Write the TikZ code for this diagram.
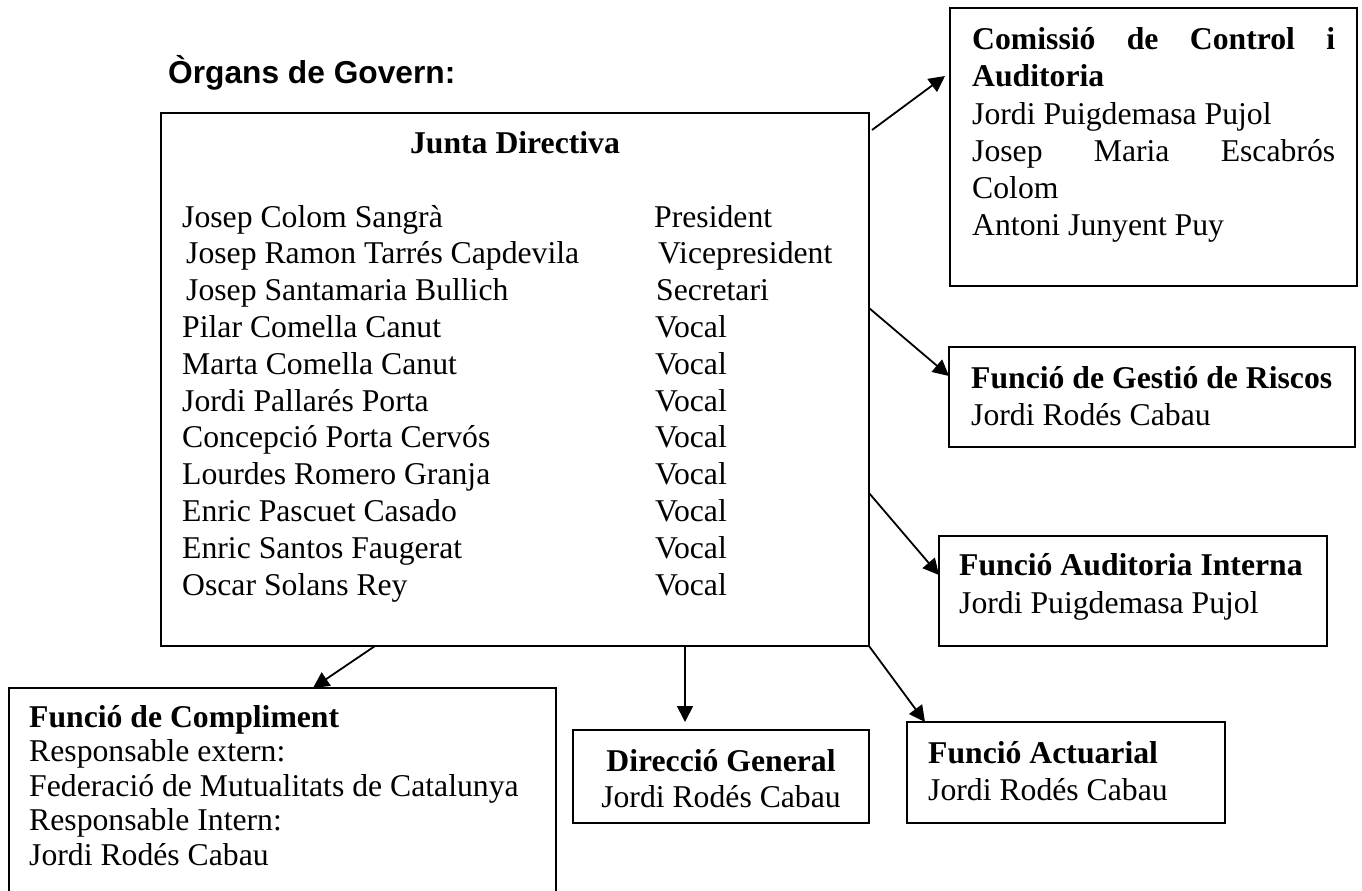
\documentclass[tikz,border=0pt]{standalone}
\usepackage{fontspec}
\setmainfont{Liberation Serif}
\newfontfamily\titlefont{Liberation Sans}
\usetikzlibrary{arrows.meta}

\begin{document}
\begin{tikzpicture}[x=1pt,y=-1pt,
    box/.style={draw, line width=1.8pt, inner sep=0pt, outer sep=0pt, anchor=north west},
    txt/.style={inner sep=0pt, anchor=base west, font=\fontsize{31.7}{37}\selectfont},
    hd/.style={txt, font=\fontsize{31.7}{37}\selectfont\bfseries},
    arr/.style={line width=1.8pt, -{Triangle[length=16pt,width=16pt]}}]
    \useasboundingbox (0,0) rectangle (1362,891);
    \node[inner sep=0pt, anchor=base west, font=\titlefont\fontsize{31.7}{37}\selectfont\bfseries] (titol) at (168,83) {Òrgans de Govern:};
    \node[box, minimum width=708pt, minimum height=533pt] (jd) at (161,113) {};
    \node[box, minimum width=407pt, minimum height=278pt] (cca) at (950,8) {};
    \node[box, minimum width=406pt, minimum height=100pt] (gr) at (949,347) {};
    \node[box, minimum width=388pt, minimum height=110pt] (ai) at (939,536) {};
    \node[box, minimum width=547pt, minimum height=215pt] (fc) at (9,688) {};
    \node[box, minimum width=296pt, minimum height=93pt] (dg) at (573,730) {};
    \node[box, minimum width=318pt, minimum height=101pt] (fa) at (907,722) {};
    \node[hd, anchor=base] (jdt) at (515,153) {Junta Directiva};
    \foreach \nm/\rl/\dx/\dr [count=\i from 0] in {Josep Colom Sangrà/President/0/0,
      Josep Ramon Tarrés Capdevila/Vicepresident/4/4, Josep Santamaria Bullich/Secretari/4/2,
      Pilar Comella Canut/Vocal/0/1, Marta Comella Canut/Vocal/0/1, Jordi Pallarés Porta/Vocal/0/1,
      Concepció Porta Cervós/Vocal/0/1, Lourdes Romero Granja/Vocal/0/1, Enric Pascuet Casado/Vocal/0/1,
      Enric Santos Faugerat/Vocal/0/1, Oscar Solans Rey/Vocal/0/1}{
      \pgfmathsetmacro{\yy}{227+36.8*\i}
      \pgfmathsetmacro{\xn}{182+\dx}
      \pgfmathsetmacro{\xr}{654+\dr}
      \node[txt] (nom\i) at (\xn,\yy) {\nm};
      \node[txt] (car\i) at (\xr,\yy) {\rl};}
    \node[hd] (cca1) at (972,49) {\makebox[363pt][s]{Comissió de Control i}};
    \node[hd] (cca2) at (972,86) {Auditoria};
    \node[txt] (cca3) at (972,124) {Jordi Puigdemasa Pujol};
    \node[txt] (cca4) at (972,161) {\makebox[363pt][s]{Josep Maria Escabrós}};
    \node[txt] (cca5) at (972,198) {Colom};
    \node[txt] (cca6) at (972,235) {Antoni Junyent Puy};
    \node[hd] (gr1) at (971,388) {Funció de Gestió de Riscos};
    \node[txt] (gr2) at (971,425) {Jordi Rodés Cabau};
    \node[hd] (ai1) at (959,575) {Funció Auditoria Interna};
    \node[txt] (ai2) at (959,613) {Jordi Puigdemasa Pujol};
    \node[hd] (fc1) at (29,727) {Funció de Compliment};
    \node[txt] (fc2) at (29,761.5) {Responsable extern:};
    \node[txt] (fc3) at (29,796) {Federació de Mutualitats de Catalunya};
    \node[txt] (fc4) at (29,830.5) {Responsable Intern:};
    \node[txt] (fc5) at (29,865) {Jordi Rodés Cabau};
    \node[hd, anchor=base] (dg1) at (721,771) {Direcció General};
    \node[txt, anchor=base] (dg2) at (721,807) {Jordi Rodés Cabau};
    \node[hd] (fa1) at (928,763) {Funció Actuarial};
    \node[txt] (fa2) at (928,800) {Jordi Rodés Cabau};
    \draw[arr] ([xshift=3pt,yshift=-17pt]jd.north east) -- ([xshift=-5pt,yshift=-68pt]cca.north west);
    \draw[arr] ([yshift=-195pt]jd.north east) -- ([yshift=-29pt]gr.north west);
    \draw[arr] ([yshift=-380pt]jd.north east) -- ([yshift=-39pt]ai.north west);
    \draw[arr] (jd.south east) -- ([xshift=18pt]fa.north west);
    \draw[arr] ([xshift=170pt]jd.south) -- ([xshift=-36pt,yshift=8pt]dg.north);
    \draw[arr] ([xshift=214pt]jd.south west) -- ([xshift=304pt]fc.north west);
  \end{tikzpicture}
\end{document}
